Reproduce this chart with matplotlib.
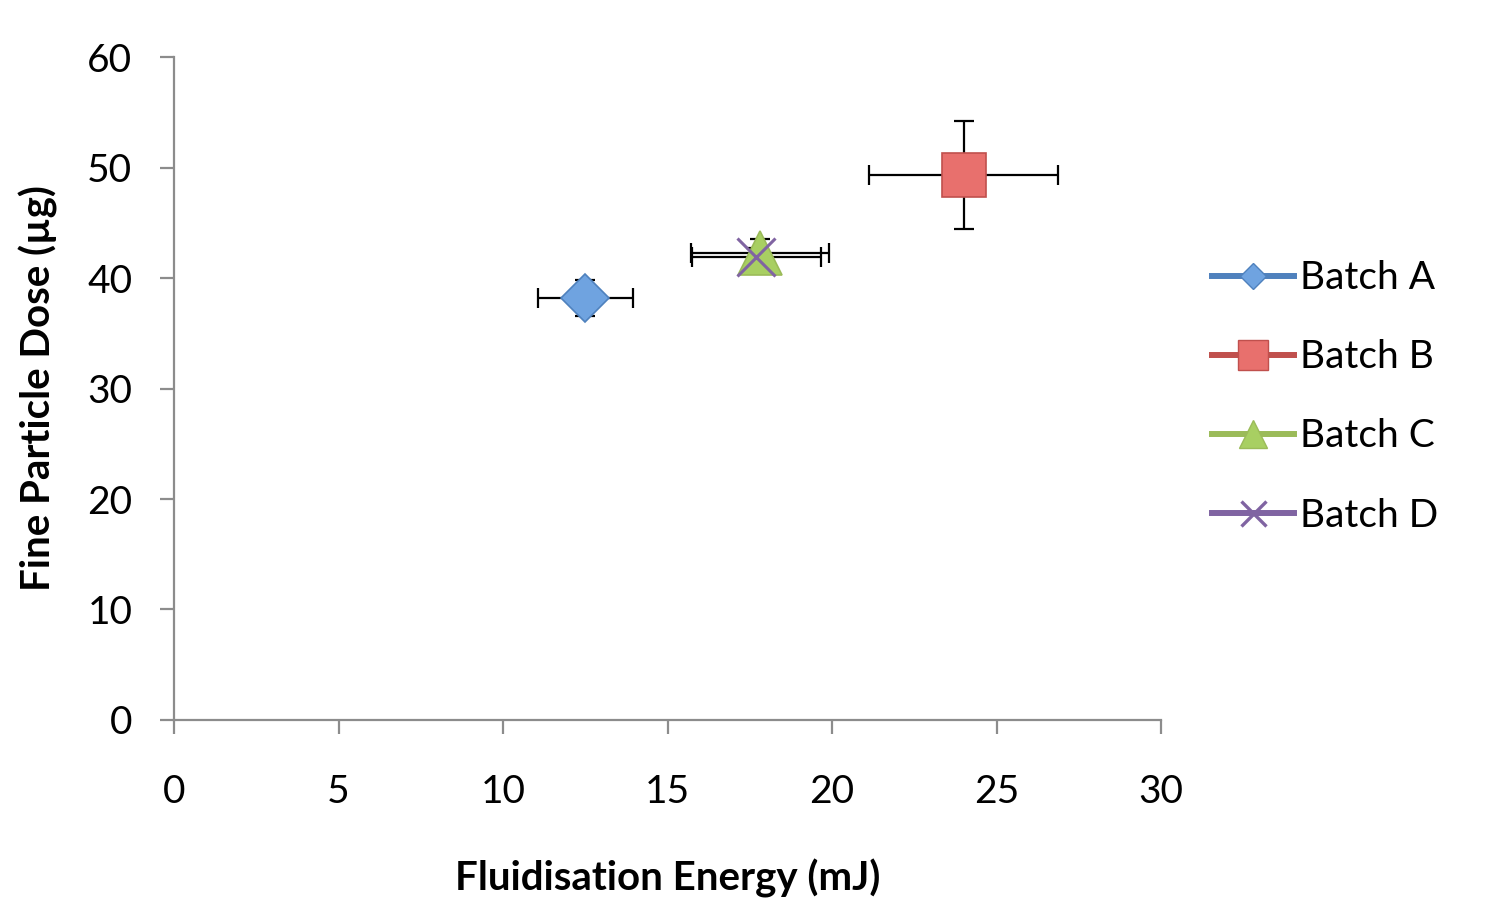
import matplotlib
matplotlib.use("Agg")
import matplotlib.pyplot as plt
from matplotlib.lines import Line2D

plt.rcParams['font.family'] = ['Lato', 'DejaVu Sans']

# Batch measurements: fluidisation energy (mJ) vs fine particle dose (ug)
batches = ["Batch A", "Batch B", "Batch C", "Batch D"]
energy = [12.5, 24.0, 17.8, 17.7]
energy_err = [1.45, 2.87, 2.1, 1.95]
dose = [38.2, 49.3, 42.3, 41.9]
dose_err = [1.6, 4.9, 1.2, 0.8]

line_colors = ["#4F81BD", "#C0504D", "#9BBB59", "#8064A2"]
fill_colors = ["#6FA3E0", "#E8706D", "#A8CF62", "#8064A2"]
markers = ["D", "s", "^", "x"]
msizes = [24, 32, 32, 28]
legend_ms = [13, 21, 20, 18]

x_ticks = [0, 5, 10, 15, 20, 25, 30]
y_ticks = [0, 10, 20, 30, 40, 50, 60]

fig = plt.figure(figsize=(15.03, 9.01), dpi=100)
ax = fig.add_axes([0.1158, 0.2009, 0.6567, 0.7358])

for i in range(len(batches)):
    ax.errorbar(energy[i], dose[i], xerr=energy_err[i], yerr=dose_err[i],
                fmt="none", ecolor="black", elinewidth=1.6, capsize=7,
                capthick=1.6, zorder=2)
for i in range(len(batches)):
    if markers[i] == "x":
        ax.plot(energy[i], dose[i], marker="x", ms=msizes[i], mew=2.2,
                color=line_colors[i], linestyle="none", zorder=4 + i)
    else:
        ax.plot(energy[i], dose[i], marker=markers[i], ms=msizes[i],
                mfc=fill_colors[i], mec=line_colors[i], mew=1.2,
                linestyle="none", zorder=4 + i)

ax.set_xlim(0, 30)
ax.set_ylim(0, 60)
ax.set_xticks(x_ticks)
ax.set_yticks(y_ticks)

for side in ["top", "right"]:
    ax.spines[side].set_visible(False)
for side in ["left", "bottom"]:
    ax.spines[side].set_color("#8c8c8c")
    ax.spines[side].set_linewidth(1.6)
ax.tick_params(axis="both", direction="out", length=10, width=1.6,
               color="#8c8c8c", labelsize=28)
ax.tick_params(axis="x", pad=29)
ax.tick_params(axis="y", pad=20)

ax.set_xlabel("Fluidisation Energy (mJ)", fontsize=29, fontweight="bold",
              labelpad=35)
ax.set_ylabel("Fine Particle Dose (µg)", fontsize=29, fontweight="bold",
              labelpad=21)

handles = []
for i in range(len(batches)):
    if markers[i] == "x":
        h = Line2D([0], [0], color=line_colors[i], lw=4.3, marker="x",
                   ms=legend_ms[i], mew=2.4)
    else:
        h = Line2D([0], [0], color=line_colors[i], lw=4.3, marker=markers[i],
                   ms=legend_ms[i], mfc=fill_colors[i],
                   mec=line_colors[i], mew=1)
    handles.append(h)

fig.legend(handles, batches, loc="center left",
           bbox_to_anchor=(0.7935, 0.5595), frameon=False, fontsize=28,
           handlelength=2.1, handletextpad=0.15, labelspacing=1.11,
           borderpad=0)

fig.savefig("out.png", dpi=100)
